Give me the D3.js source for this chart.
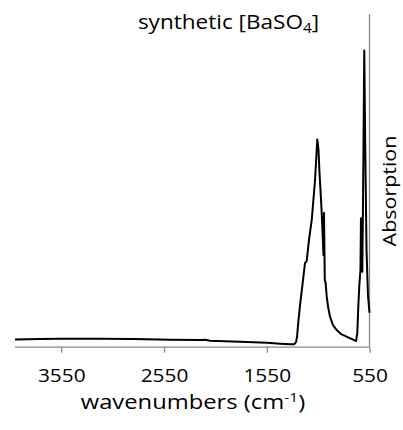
<!DOCTYPE html>
<html>
<head>
<meta charset="utf-8">
<script src="https://cdn.jsdelivr.net/npm/d3@7"></script>
<style>
  html, body { margin: 0; padding: 0; background: #fff; }
  svg { display: block; font-family: "Open Sans", Lato, sans-serif; }
</style>
</head>
<body>
<svg id="chart" width="403" height="430"></svg>
<script>
// IR absorption spectrum of synthetic barium sulfate
const wavenumbers = [
  4000, 3756, 3561, 3172, 2851, 2491, 2199, 2150, 2102, 1810,
  1547, 1421, 1324, 1285, 1265, 1255, 1243, 1226, 1197, 1178,
  1161, 1139, 1112, 1080, 1058, 1046, 1038, 1027, 1015, 1004,
  998, 993, 985, 978, 966, 951, 934, 905, 869, 827,
  772, 720, 681, 669, 659, 649, 638, 633, 620, 613,
  601, 591, 579, 565, 550
];
const absorption = [
  0.022, 0.023, 0.024, 0.024, 0.023, 0.021, 0.020, 0.021, 0.018, 0.015,
  0.012, 0.009, 0.007, 0.007, 0.014, 0.030, 0.074, 0.125, 0.200, 0.251,
  0.258, 0.321, 0.381, 0.501, 0.623, 0.591, 0.531, 0.471, 0.402, 0.321,
  0.276, 0.402, 0.200, 0.194, 0.150, 0.116, 0.090, 0.065, 0.050, 0.038,
  0.030, 0.023, 0.017, 0.040, 0.120, 0.185, 0.231, 0.386, 0.225, 0.441,
  0.890, 0.591, 0.291, 0.155, 0.102
];
const xTicks = [3550, 2550, 1550, 550];
const xDomain = [4000, 550];
const yDomain = [0, 1];

const svg = d3.select("#chart");
const margin = { left: 15, right: 33.5, top: 14, bottom: 83.3 };
const W = 403, H = 430;
const font = "'Open Sans', Lato, sans-serif";
const wide = 1.16; // horizontal widening of the label glyphs

const x = d3.scaleLinear().domain(xDomain).range([margin.left, W - margin.right]);
const y = d3.scaleLinear().domain(yDomain).range([H - margin.bottom, margin.top]);

const axisColor = "#898989";

// x axis along the bottom, ticks pointing outward
const xAxis = svg.append("g")
  .attr("transform", `translate(0,${H - margin.bottom})`)
  .call(d3.axisBottom(x).tickValues(xTicks).tickSize(6).tickPadding(17).tickFormat(d3.format("d")));
xAxis.select(".domain").attr("stroke", axisColor).attr("stroke-width", 1.3).attr("d", `M${x(xDomain[0])},0.5H${x(xDomain[1])}`);
xAxis.selectAll(".tick line").attr("stroke", axisColor).attr("stroke-width", 1.3);
xAxis.selectAll(".tick text")
  .attr("fill", "#000")
  .attr("transform", `scale(${wide + 0.03},1)`)
  .style("font-size", "17.5px")
  .style("font-family", font);

// value axis on the right, no ticks
svg.append("line")
  .attr("x1", x(550)).attr("x2", x(550))
  .attr("y1", y(yDomain[1])).attr("y2", y(yDomain[0]))
  .attr("stroke", axisColor).attr("stroke-width", 1.3);

// spectrum trace
const pts = wavenumbers.map((w, i) => [w, absorption[i]]);
svg.append("path")
  .datum(pts)
  .attr("fill", "none")
  .attr("stroke", "#000")
  .attr("stroke-width", 2)
  .attr("stroke-linejoin", "round")
  .attr("d", d3.line().x(d => x(d[0])).y(d => y(d[1])));

// title
const title = svg.append("text")
  .attr("transform", `translate(228.5,29) scale(${wide - 0.06},1)`)
  .attr("text-anchor", "middle")
  .style("font-size", "20.5px");
title.append("tspan").text("synthetic [BaSO");
title.append("tspan").attr("dy", 4).style("font-size", "14px").text("4");
title.append("tspan").attr("dy", -4).text("]");

// x axis title
const xt = svg.append("text")
  .attr("transform", `translate(193,409) scale(${wide},1)`)
  .attr("text-anchor", "middle")
  .style("font-size", "20.5px");
xt.append("tspan").text("wavenumbers (cm");
xt.append("tspan").attr("dy", -7).style("font-size", "13.5px").text("-1");
xt.append("tspan").attr("dy", 7).text(")");

// y axis title
svg.append("text")
  .attr("transform", `translate(396,191) rotate(-90) scale(${wide},1)`)
  .attr("text-anchor", "middle")
  .style("font-size", "18.5px")
  .text("Absorption");
</script>
</body>
</html>
